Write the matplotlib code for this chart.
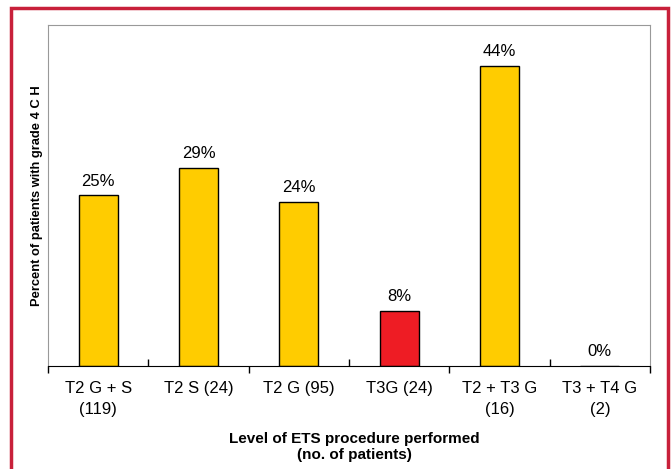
import matplotlib
matplotlib.use("Agg")
import matplotlib.pyplot as plt
import matplotlib.patches as patches
import numpy as np

plt.rcParams['font.family'] = ['Liberation Sans', 'DejaVu Sans']

# Datos: nivel del procedimiento ETS y porcentaje con grado 4 CH
categorias = ['T2 G + S\n(119)', 'T2 S (24)', 'T2 G (95)', 'T3G (24)', 'T2 + T3 G\n(16)', 'T3 + T4 G\n(2)']
porcentajes = [25, 29, 24, 8, 44, 0]
colores = ['#FFCC00', '#FFCC00', '#FFCC00', '#EE1C24', '#FFCC00', '#FFCC00']

fig = plt.figure(figsize=(6.72, 4.69), dpi=100)
ax = fig.add_axes([48 / 672, 103 / 469, 602 / 672, 341 / 469])

x = np.arange(len(categorias))
ax.bar(x, porcentajes, width=0.39, color=colores, edgecolor='black', linewidth=1)

# Etiquetas de porcentaje sobre cada barra
for xi, v in zip(x, porcentajes):
    ax.annotate(f'{v}%', (xi, v), xytext=(0, 5), textcoords='offset points',
                ha='center', va='bottom', fontsize=12)

ax.set_xlim(-0.5, len(categorias) - 0.5)
ax.set_ylim(0, 50)
ax.set_yticks([])

# Marcas del eje x en los limites de las categorias:
# hacia fuera en -0.5, 1.5, 3.5, 5.5 y hacia dentro en 0.5, 2.5, 4.5
limites = np.arange(-0.5, len(categorias), 1.0)
ax.set_xticks(limites[::2])
ax.set_xticks(limites[1::2], minor=True)
ax.tick_params(axis='x', which='major', direction='out', length=5, width=1, labelbottom=False)
ax.tick_params(axis='x', which='minor', direction='in', length=5, width=1, labelbottom=False)
for xi, c in zip(x, categorias):
    ax.text(xi, -0.045, c, transform=ax.get_xaxis_transform(), ha='center', va='top',
            fontsize=12, linespacing=1.5)

for lado in ['top', 'left', 'right']:
    ax.spines[lado].set_color('#999999')
ax.spines['bottom'].set_color('black')

ax.set_ylabel('Percent of patients with grade 4 C H', fontsize=9.3, fontweight='bold')
ax.yaxis.set_label_coords(-0.008, 0.5)
fig.text(354 / 672, 1 - 447 / 469, 'Level of ETS procedure performed\n(no. of patients)',
         ha='center', va='center', fontsize=11, fontweight='bold', linespacing=1.1)

# Marco rojo alrededor de la figura
marco = patches.Rectangle((10.5 / 672, -0.1), 657.5 / 672, 1.1 - 8.5 / 469,
                          transform=fig.transFigure, fill=False,
                          edgecolor='#C8203A', linewidth=2.5, clip_on=False)
fig.patches.append(marco)

fig.savefig('out.png', dpi=100)
